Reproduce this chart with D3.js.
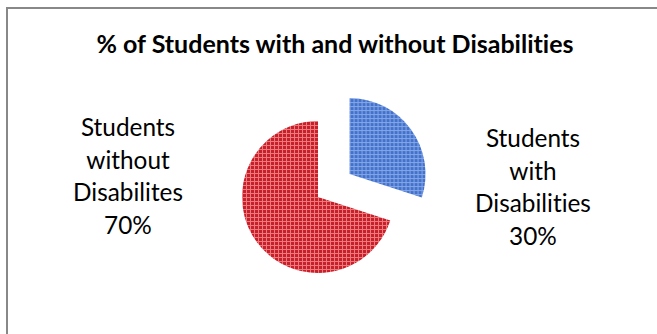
<!DOCTYPE html>
<html><head><meta charset="utf-8">
<script src="https://cdn.jsdelivr.net/npm/d3@7"></script>
<style>
html,body{margin:0;padding:0;background:#fff;}
svg{display:block;}
text{font-family:Lato,"Open Sans",sans-serif;fill:#000;font-variant-ligatures:none;font-feature-settings:"liga" 0;}
</style></head>
<body>
<script>
const title = "% of Students with and without Disabilities";
const categories = ["Students with Disabilities", "Students without Disabilites"];
const values = [30, 70];
const labelLines = [["Students","with","Disabilities","30%"],["Students","without","Disabilites","70%"]];
const explode = [true, false];

const W = 657, H = 334;
const svg = d3.select("body").append("svg").attr("width", W).attr("height", H);
const defs = svg.append("defs");

function makePattern(id, base, light){
  const p = defs.append("pattern").attr("id", id).attr("patternUnits","userSpaceOnUse")
    .attr("width",4).attr("height",4);
  p.append("rect").attr("width",4).attr("height",4).attr("fill",light);
  p.append("rect").attr("x",1).attr("y",1).attr("width",3).attr("height",3).attr("fill",base);
}
makePattern("pBlue", "#4272cc", "#86a6e6");
makePattern("pRed", "#c8202a", "#ea7a7c");
const fills = ["url(#pBlue)", "url(#pRed)"];

// border
svg.append("path").attr("d", `M7,${H+5} V8 H${W+5}`).attr("fill","none")
  .attr("stroke","#888").attr("stroke-width",2);

// title
const t = svg.append("text").attr("x", 335).attr("y", 53).attr("text-anchor","middle")
  .style("font-weight","bold").style("font-size","20px").text(title);
const tw = t.node().getComputedTextLength();
t.style("font-size", (20*477/tw).toFixed(2)+"px");

const cx = 318, cy = 197, r = 76, off = 39;
const pie = d3.pie().sort(null).value(d => d);
const arcs = pie(values);
const arc = d3.arc().innerRadius(0).outerRadius(r);
const g = svg.append("g").attr("transform", `translate(${cx},${cy})`);
g.selectAll("path").data(arcs).join("path")
  .attr("d", arc)
  .attr("fill", (d,i) => fills[i])
  .attr("transform", (d,i) => {
    if (!explode[i]) return null;
    const a = (d.startAngle + d.endAngle)/2;
    return `translate(${off*Math.sin(a)},${-off*Math.cos(a)})`;
  });

// labels
const labelPos = [[533,147],[128,136]];
const lg = svg.append("g");
labelLines.forEach((lines, i) => {
  const tx = lg.append("text").attr("x", labelPos[i][0]).attr("y", labelPos[i][1])
    .attr("text-anchor","middle").style("font-size","20px");
  lines.forEach((s, j) => {
    tx.append("tspan").attr("x", labelPos[i][0]).attr("dy", j===0?0:32.5).text(s);
  });
});
const probe = lg.select("text:nth-child(2) tspan:nth-child(3)").node();
const pw = probe.getComputedTextLength();
lg.selectAll("text").style("font-size", (20*110/pw).toFixed(2)+"px");
</script>
</body></html>
